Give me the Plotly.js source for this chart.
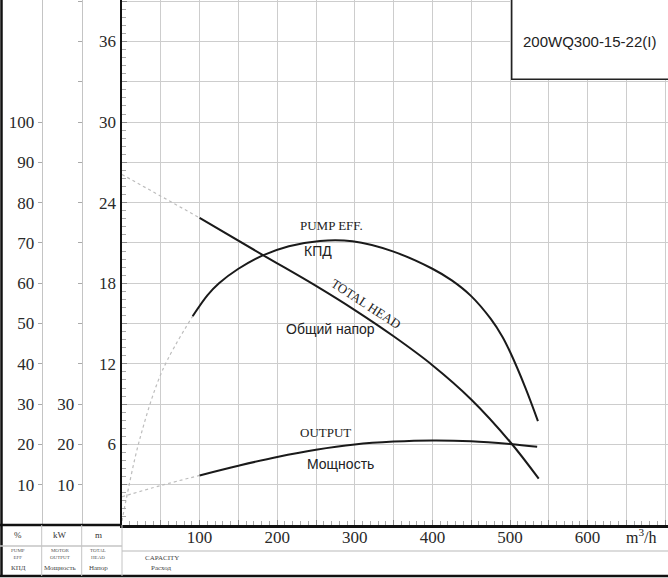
<!DOCTYPE html>
<html>
<head>
<meta charset="utf-8">
<script src="https://cdn.plot.ly/plotly-3.0.1.min.js"></script>
<style>
  body { margin: 0; background: #fff; }
  #plot { width: 668px; height: 578px; }
</style>
</head>
<body>
<div id="plot"></div>
<script>
// capacity, m3/h
const headFlow = [100, 180, 250, 300, 350, 400, 450, 500, 537]
const headValues = [22.87, 20.15, 17.8, 16.0, 14.05, 11.9, 9.35, 6.2, 3.45]
const headFlowExt = [0, 100]
const headValuesExt = [26.1, 22.87]

const effFlow = [91, 110, 125, 150, 180, 215, 255, 297, 349, 400, 425, 450, 475, 490, 500, 520, 536]
const effValues = [51.8, 57.0, 60.0, 63.6, 66.8, 69.2, 70.5, 70.4, 67.9, 63.6, 60.7, 56.8, 51.2, 46.8, 43.0, 34.0, 25.8]
const effFlowExt = [0, 5, 23, 52, 91]
const effValuesExt = [1, 6, 21.4, 38.3, 51.8]

const powerFlow = [100, 150, 200, 250, 300, 350, 400, 450, 500, 535]
const powerValues = [12.3, 14.7, 16.9, 18.7, 20.0, 20.7, 21.0, 20.8, 20.1, 19.4]
const powerFlowExt = [0, 50, 100]
const powerValuesExt = [7.0, 9.8, 12.3]

const flowTicks = [50, 100, 150, 200, 250, 300, 350, 400, 450, 500, 550, 600, 650, 700]
const flowTickText = ['', '100', '', '200', '', '300', '', '400', '', '500', '', '600', '', '']
const headTicks = [3, 6, 9, 12, 15, 18, 21, 24, 27, 30, 33, 36, 39]
const headTickText = ['', '6', '', '12', '', '18', '', '24', '', '30', '', '36', '']
const effTicks = [10, 20, 30, 40, 50, 60, 70, 80, 90, 100]
const powerTicks = [10, 20, 30]

const W = 668, PLOT_BOTTOM = 525
const px = (x) => x / W
const py = (y) => 1 - y / PLOT_BOTTOM

const serif = 'Liberation Serif, DejaVu Serif, serif'
const sans = 'Liberation Sans, Arial, sans-serif'
const gridGray = '#cdcdcd'

function solid(x, y, axis, name) {
    return {
        x: x, y: y, yaxis: axis, name: name,
        type: 'scatter', mode: 'lines',
        line: { color: '#1a1a1a', width: 2, shape: 'spline', smoothing: 1, simplify: false },
        hoverinfo: 'skip'
    }
}

function faint(x, y, axis, name) {
    return {
        x: x, y: y, yaxis: axis, name: name,
        type: 'scatter', mode: 'lines',
        line: { color: '#bdbdbd', width: 1.2, dash: 'dot', shape: 'spline', smoothing: 1, simplify: false },
        hoverinfo: 'skip'
    }
}

const data = [
    faint(headFlowExt, headValuesExt, 'y', 'head ext'),
    faint(effFlowExt, effValuesExt, 'y2', 'eff ext'),
    faint(powerFlowExt, powerValuesExt, 'y3', 'power ext'),
    solid(headFlow, headValues, 'y', 'TOTAL HEAD'),
    solid(effFlow, effValues, 'y2', 'PUMP EFF.'),
    solid(powerFlow, powerValues, 'y3', 'OUTPUT')
]

const sideAxis = {
    overlaying: 'y', anchor: 'free', side: 'left',
    range: [0, 130.3],
    tickmode: 'array',
    showline: true, linecolor: '#c4c4c4', linewidth: 1,
    ticks: 'outside', ticklen: 4, tickcolor: '#aaa',
    showgrid: false, zeroline: false,
    tickfont: { family: serif, size: 17, color: '#2a2a2a' }
}

// annotation in page pixels
function note(text, x, y, size, family, color) {
    return {
        text: text, xref: 'paper', yref: 'paper', x: px(x), y: py(y),
        xanchor: 'center', yanchor: 'middle', showarrow: false,
        font: { family: family || serif, size: size, color: color || '#333' }
    }
}

// annotation in data units
function label(text, x, y, family, size, angle) {
    return {
        text: text, x: x, y: y, xanchor: 'center', yanchor: 'middle',
        textangle: angle || 0, showarrow: false,
        font: { family: family, size: size, color: '#222' }
    }
}

const layout = {
    width: 668, height: 578,
    margin: { l: 0, r: 0, t: 0, b: 53 },
    paper_bgcolor: '#fff', plot_bgcolor: '#fff',
    showlegend: false,
    xaxis: {
        domain: [px(122), 1], range: [0, 703.6],
        tickmode: 'array', tickvals: flowTicks, ticktext: flowTickText,
        showgrid: true, gridcolor: gridGray, gridwidth: 1,
        showline: true, linecolor: '#111', linewidth: 2.5,
        ticks: 'inside', ticklen: 5, tickcolor: '#888',
        minor: { dtick: 10, ticks: 'inside', ticklen: 4, tickcolor: '#aaa' },
        zeroline: false, ticklabelstandoff: -5,
        tickfont: { family: serif, size: 17, color: '#2a2a2a' }
    },
    yaxis: {
        domain: [0, 1], range: [0, 39.09], anchor: 'x',
        tickmode: 'array', tickvals: headTicks, ticktext: headTickText,
        showgrid: true, gridcolor: gridGray, gridwidth: 1,
        showline: true, linecolor: '#111', linewidth: 2.5,
        ticks: 'inside', ticklen: 5, tickcolor: '#888',
        minor: { dtick: 0.6, ticks: 'inside', ticklen: 4, tickcolor: '#aaa' },
        zeroline: false,
        tickfont: { family: serif, size: 17, color: '#2a2a2a' }
    },
    yaxis2: Object.assign({}, sideAxis, { position: px(41.7), tickvals: effTicks }),
    yaxis3: Object.assign({}, sideAxis, {
        position: px(81.7), tickvals: powerTicks,
        minor: { dtick: 10, ticks: 'outside', ticklen: 4, tickcolor: '#aaa' }
    }),
    shapes: [
        // outer frame
        { type: 'line', xref: 'paper', yref: 'paper', x0: px(1.5), x1: px(1.5), y0: py(576), y1: 1, line: { color: '#111', width: 2.5 } },
        { type: 'line', xref: 'paper', yref: 'paper', x0: 0, x1: 1, y0: py(576), y1: py(576), line: { color: '#111', width: 2.5 } },
        { type: 'line', xref: 'paper', yref: 'paper', x0: 0, x1: px(122), y0: py(525), y1: py(525), line: { color: '#111', width: 2.5 } },
        // table rows and columns
        { type: 'line', xref: 'paper', yref: 'paper', x0: 0, x1: px(122), y0: py(546), y1: py(546), line: { color: '#c4c4c4', width: 1.5 } },
        { type: 'line', xref: 'paper', yref: 'paper', x0: px(122), x1: 1, y0: py(551), y1: py(551), line: { color: '#d0d0d0', width: 1.5 } },
        { type: 'line', xref: 'paper', yref: 'paper', x0: px(41.7), x1: px(41.7), y0: py(576), y1: py(525), line: { color: '#c4c4c4', width: 1 } },
        { type: 'line', xref: 'paper', yref: 'paper', x0: px(81.7), x1: px(81.7), y0: py(576), y1: py(525), line: { color: '#c4c4c4', width: 1 } },
        { type: 'line', xref: 'paper', yref: 'paper', x0: px(122), x1: px(122), y0: py(576), y1: py(525), line: { color: '#c4c4c4', width: 1 } },
        // model box
        { type: 'rect', xref: 'paper', yref: 'paper', x0: px(511.7), x1: 1.01, y0: py(79.3), y1: 1.01, fillcolor: '#fff', line: { color: '#222', width: 1.5 } }
    ],
    annotations: [
        note('200WQ300-15-22(I)', 589, 42, 15, sans, '#222'),

        label('PUMP EFF.', 270, 22.3, serif, 13),
        label('КПД', 252, 20.4, sans, 14),
        label('TOTAL HEAD', 314, 16.5, serif, 13, 33),
        label('Общий напор', 269, 14.6, sans, 14),
        label('OUTPUT', 262, 6.9, serif, 13),
        label('Мощность', 282, 4.55, sans, 14),

        note('m<sup>3</sup>/h', 641, 536, 16, serif, '#222'),

        note('%', 18, 535, 9),
        note('kW', 60, 535, 9),
        note('m', 98, 535, 9),
        note('PUMP<br>EFF', 18, 554, 5, serif, '#555'),
        note('MOTOR<br>OUTPUT', 60, 554, 5, serif, '#555'),
        note('TOTAL<br>HEAD', 98, 554, 5, serif, '#555'),
        note('КПД', 18, 568, 7, serif, '#444'),
        note('Мощность', 60, 568, 7, serif, '#444'),
        note('Напор', 98, 568, 7, serif, '#444'),
        note('CAPACITY', 162, 558, 7, serif, '#444'),
        note('Расход', 161, 567.5, 7, serif, '#444')
    ]
}

Plotly.newPlot('plot', data, layout, { staticPlot: true, displayModeBar: false })
</script>
</body>
</html>
